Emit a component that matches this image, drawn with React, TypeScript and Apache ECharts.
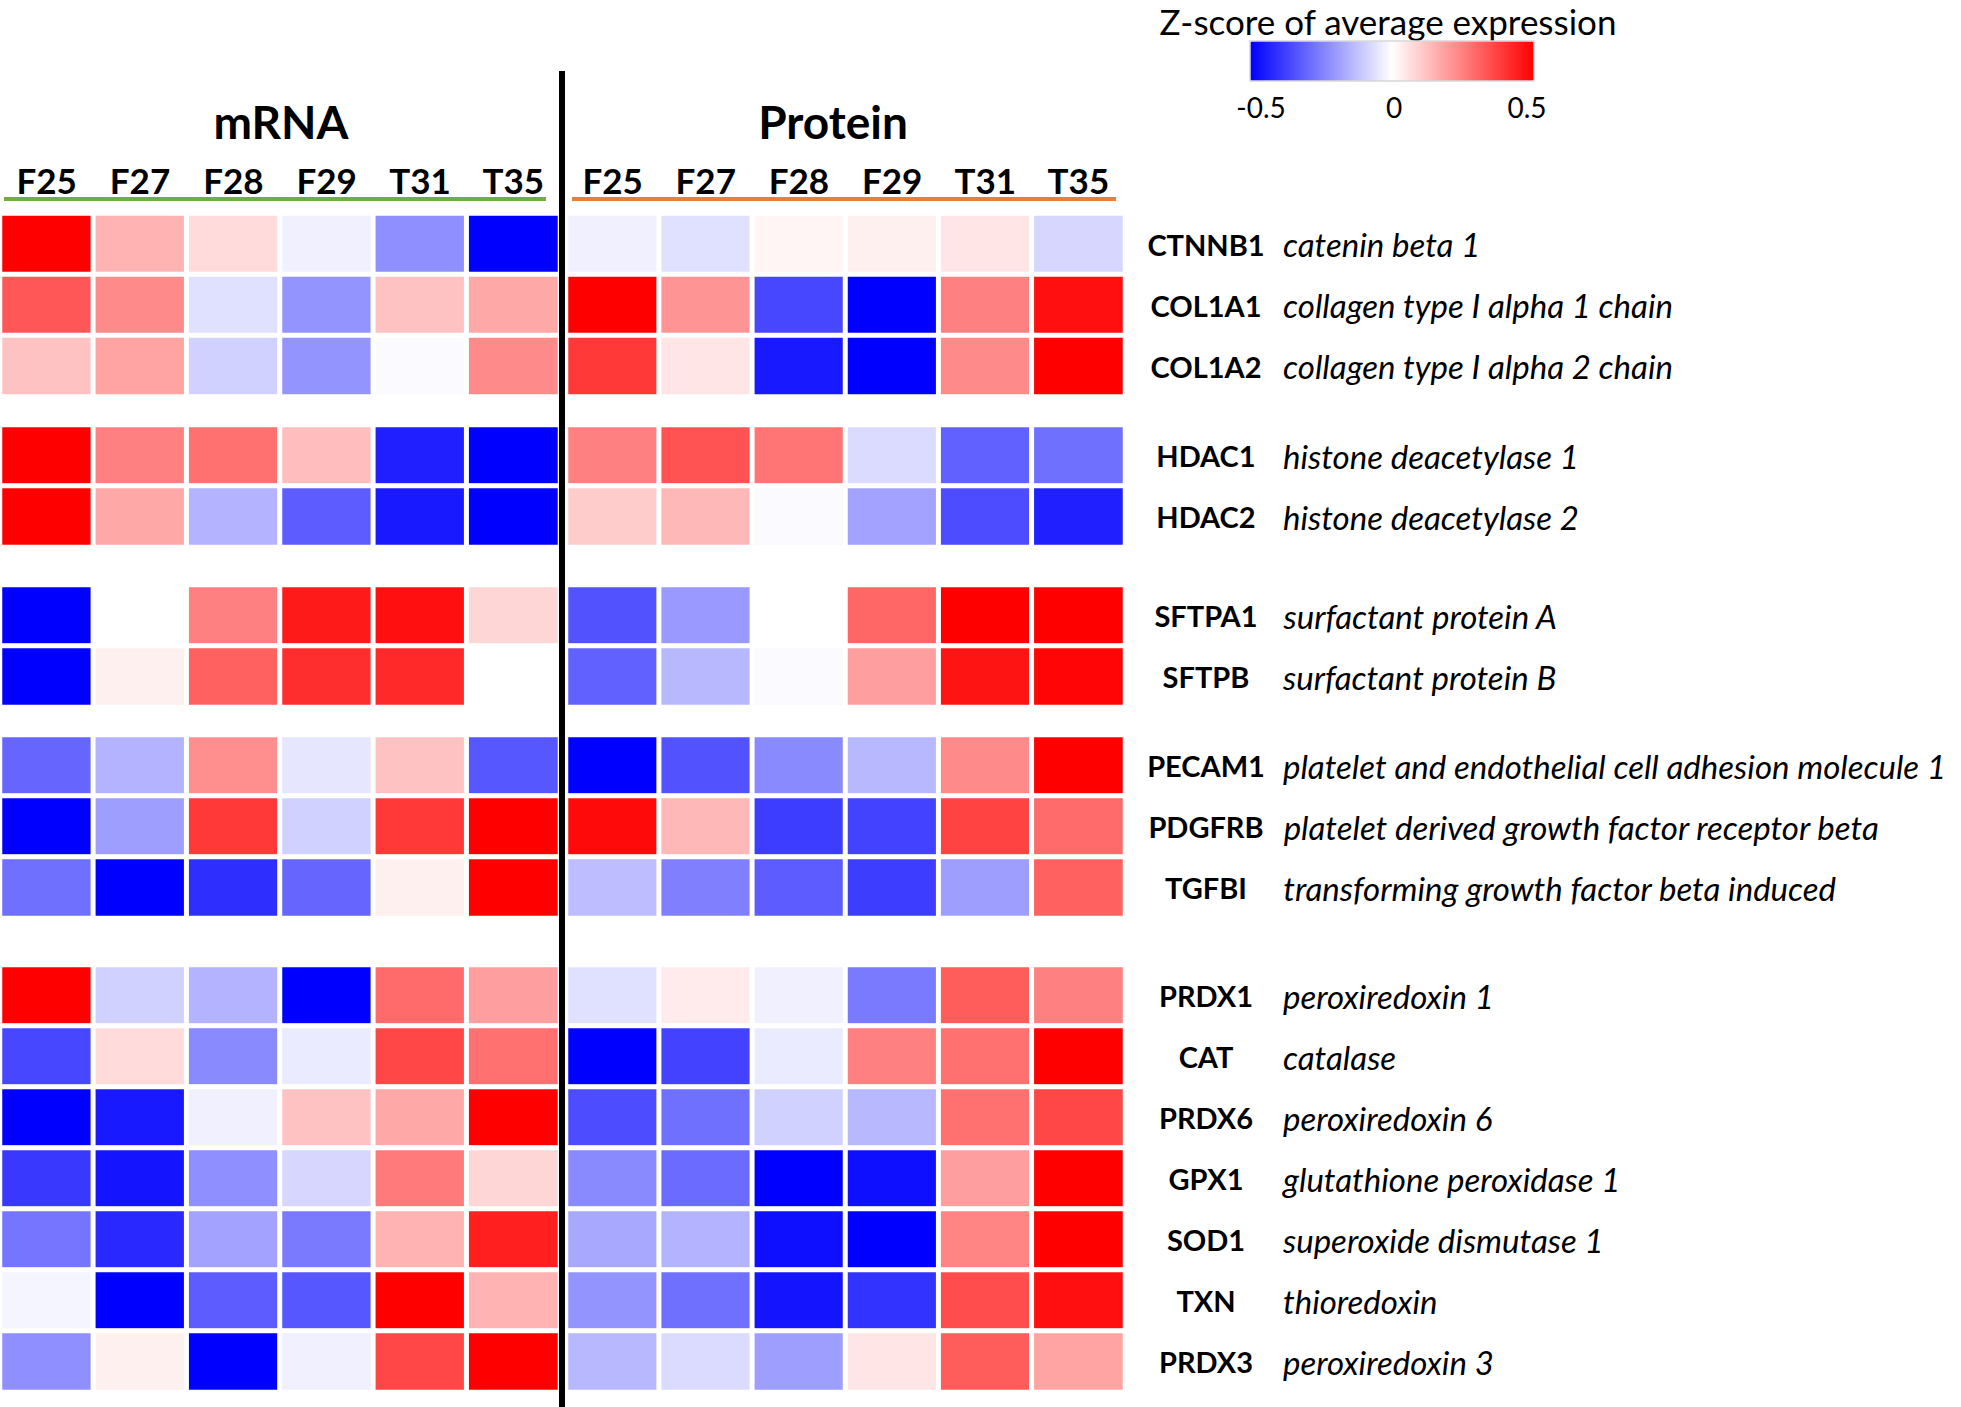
import React, { useEffect, useRef } from "react";
import * as echarts from "echarts";

// ---------- data ----------
const samples = ["F25", "F27", "F28", "F29", "T31", "T35"];
const genes = [
  "CTNNB1", "COL1A1", "COL1A2",
  "HDAC1", "HDAC2",
  "SFTPA1", "SFTPB",
  "PECAM1", "PDGFRB", "TGFBI",
  "PRDX1", "CAT", "PRDX6", "GPX1", "SOD1", "TXN", "PRDX3",
];
const geneNames = [
  "catenin beta 1", "collagen type I alpha 1 chain", "collagen type I alpha 2 chain",
  "histone deacetylase 1", "histone deacetylase 2",
  "surfactant protein A", "surfactant protein B",
  "platelet and endothelial cell adhesion molecule 1", "platelet derived growth factor receptor beta", "transforming growth factor beta induced",
  "peroxiredoxin 1", "catalase", "peroxiredoxin 6", "glutathione peroxidase 1", "superoxide dismutase 1", "thioredoxin", "peroxiredoxin 3",
];
const groupSizes = [3, 2, 2, 3, 7];
const blockTitles = ["mRNA", "Protein"];

// z-scores, one row per gene, one column per sample
const mrnaValues = [
  [0.5, 0.15, 0.07, -0.03, -0.22, -0.5],
  [0.33, 0.23, -0.06, -0.21, 0.12, 0.17],
  [0.12, 0.18, -0.09, -0.21, -0.01, 0.23],
  [0.5, 0.25, 0.28, 0.13, -0.44, -0.5],
  [0.5, 0.17, -0.15, -0.32, -0.45, -0.5],
  [-0.5, 0.0, 0.25, 0.45, 0.47, 0.08],
  [-0.5, 0.03, 0.31, 0.41, 0.42, 0.0],
  [-0.3, -0.15, 0.22, -0.05, 0.12, -0.33],
  [-0.5, -0.19, 0.39, -0.09, 0.39, 0.5],
  [-0.28, -0.5, -0.41, -0.3, 0.03, 0.5],
  [0.5, -0.09, -0.15, -0.5, 0.29, 0.19],
  [-0.36, 0.07, -0.23, -0.04, 0.36, 0.28],
  [-0.5, -0.45, -0.03, 0.12, 0.17, 0.5],
  [-0.39, -0.46, -0.22, -0.08, 0.26, 0.08],
  [-0.27, -0.42, -0.18, -0.26, 0.15, 0.44],
  [-0.02, -0.5, -0.32, -0.33, 0.5, 0.15],
  [-0.22, 0.03, -0.5, -0.03, 0.36, 0.5],
];
const proteinValues = [
  [-0.03, -0.06, 0.02, 0.03, 0.05, -0.08],
  [0.5, 0.21, -0.36, -0.5, 0.25, 0.47],
  [0.39, 0.05, -0.45, -0.5, 0.23, 0.5],
  [0.25, 0.34, 0.27, -0.07, -0.31, -0.28],
  [0.1, 0.14, -0.01, -0.18, -0.35, -0.44],
  [-0.34, -0.2, 0.0, 0.3, 0.5, 0.5],
  [-0.31, -0.14, -0.01, 0.19, 0.46, 0.49],
  [-0.5, -0.34, -0.23, -0.14, 0.23, 0.5],
  [0.48, 0.14, -0.38, -0.37, 0.37, 0.29],
  [-0.13, -0.25, -0.32, -0.38, -0.19, 0.31],
  [-0.06, 0.04, -0.03, -0.26, 0.32, 0.25],
  [-0.5, -0.37, -0.04, 0.25, 0.28, 0.5],
  [-0.35, -0.28, -0.09, -0.14, 0.28, 0.36],
  [-0.23, -0.29, -0.5, -0.47, 0.19, 0.5],
  [-0.17, -0.15, -0.47, -0.5, 0.24, 0.5],
  [-0.21, -0.28, -0.46, -0.4, 0.35, 0.47],
  [-0.14, -0.07, -0.19, 0.05, 0.32, 0.18],
];
const zRange = [-0.5, 0.5];
const zInterval = 0.5;
const legendTitle = "Z-score of average expression";

// ---------- layout ----------
const FONT = "Lato";
const blockLeft = [0, 566];
const blockWidth = [560, 559];
const groupTops = [213.5, 425, 585, 735, 965];
const rowPitch = 61;

function buildOption() {
  const grids: any[] = [];
  const xAxes: any[] = [];
  const yAxes: any[] = [];
  const series: any[] = [];
  const descOf: Record<string, string> = {};
  genes.forEach((g, i) => (descOf[g] = geneNames[i]));

  let start = 0;
  groupSizes.forEach((size, gi) => {
    const groupGenes = genes.slice(start, start + size);
    [mrnaValues, proteinValues].forEach((matrix, bi) => {
      const idx = grids.length;
      grids.push({
        left: blockLeft[bi],
        width: blockWidth[bi],
        top: groupTops[gi],
        height: size * rowPitch,
      });
      xAxes.push({
        type: "category",
        gridIndex: idx,
        data: samples,
        position: "top",
        show: gi === 0,
        axisLine: { show: false },
        axisTick: { show: false },
        axisLabel: {
          margin: 16,
          fontFamily: FONT,
          fontWeight: "bold",
          fontSize: 35,
          color: "#000",
        },
      });
      yAxes.push({
        type: "category",
        gridIndex: idx,
        data: groupGenes,
        inverse: true,
        position: "right",
        show: bi === 1,
        axisLine: { show: false },
        axisTick: { show: false },
        axisLabel: {
          margin: 15,
          align: "left",
          color: "#000",
          formatter: (v: string) => `{s|${v}}{d|${descOf[v]}}`,
          rich: {
            s: {
              fontFamily: FONT,
              fontWeight: "bold",
              fontSize: 29,
              width: 132,
              align: "center",
              color: "#000",
            },
            d: {
              fontFamily: FONT,
              fontStyle: "italic",
              fontSize: 33,
              padding: [0, 0, 0, 11],
              color: "#000",
            },
          },
        },
      });
      const data: any[] = [];
      groupGenes.forEach((g, r) => {
        matrix[start + r].forEach((v, c) => data.push([c, r, v]));
      });
      series.push({
        type: "heatmap",
        xAxisIndex: idx,
        yAxisIndex: idx,
        data,
        itemStyle: { borderColor: "#fff", borderWidth: 5 },
        emphasis: { disabled: true },
      });
    });
    start += size;
  });

  // legend tick-label axis
  const legIdx = grids.length;
  grids.push({ left: 1261, width: 266, top: 60, height: 21 });
  xAxes.push({
    type: "value",
    gridIndex: legIdx,
    min: zRange[0],
    max: zRange[1],
    interval: zInterval,
    position: "bottom",
    axisLine: { show: false },
    axisTick: { show: false },
    splitLine: { show: false },
    axisLabel: {
      margin: 12,
      fontFamily: FONT,
      fontSize: 28,
      color: "#000",
      formatter: (v: number) => (v === 0 ? "0" : String(v)),
    },
  });
  yAxes.push({ type: "value", gridIndex: legIdx, show: false });

  const textStyle = (text: string, font: string, align = "center") => ({
    text,
    font,
    fill: "#000",
    align,
    textAlign: align,
    verticalAlign: "middle",
    textVerticalAlign: "middle",
  });

  return {
    animation: false,
    backgroundColor: "#fff",
    grid: grids,
    xAxis: xAxes,
    yAxis: yAxes,
    visualMap: {
      type: "continuous",
      min: zRange[0],
      max: zRange[1],
      orient: "horizontal",
      left: 1250,
      top: 41,
      padding: 0,
      itemHeight: 284,
      itemWidth: 40,
      calculable: false,
      text: ["", ""],
      showLabel: false,
      inRange: { color: ["#0000ff", "#ffffff", "#ff0000"] },
      seriesIndex: series.map((_, i) => i),
    },
    series,
    graphic: [
      { type: "text", x: 1388, y: 21, style: textStyle(legendTitle, `35px ${FONT}`) },
      {
        type: "rect",
        shape: { x: 1250, y: 41, width: 284, height: 40 },
        style: { fill: "none", stroke: "#d8d8d8", lineWidth: 1.5 },
        z: 10,
      },
      { type: "text", x: 281, y: 121, style: textStyle(blockTitles[0], `bold 46px ${FONT}`) },
      { type: "text", x: 833, y: 121, style: textStyle(blockTitles[1], `bold 46px ${FONT}`) },
      {
        type: "line",
        shape: { x1: 4, y1: 199, x2: 546, y2: 199 },
        style: { stroke: "#70ad47", lineWidth: 4 },
      },
      {
        type: "line",
        shape: { x1: 572, y1: 199, x2: 1116, y2: 199 },
        style: { stroke: "#ed7d31", lineWidth: 4 },
      },
      {
        type: "line",
        shape: { x1: 562, y1: 71, x2: 562, y2: 1407 },
        style: { stroke: "#000", lineWidth: 6 },
        z: 20,
      },
    ],
  };
}

export default function App() {
  const ref = useRef<HTMLDivElement>(null);
  useEffect(() => {
    if (!ref.current) return;
    const chart = echarts.init(ref.current, null, { renderer: "svg" });
    chart.setOption(buildOption() as any);
    return () => chart.dispose();
  }, []);
  return (
    <div
      ref={ref}
      style={{ position: "fixed", left: 0, top: 0, width: 1961, height: 1407, background: "#fff" }}
    />
  );
}
